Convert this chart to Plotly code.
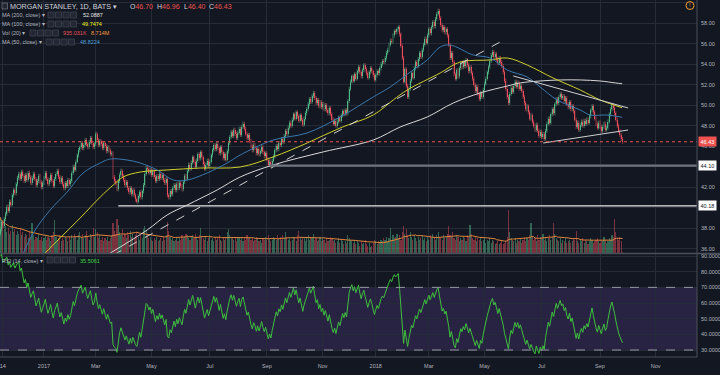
import numpy as np
import pandas as pd
import plotly.graph_objects as go

# ---------------- data ----------------
prior_closes = [33.3, 33.6, 33.4, 33.8, 33.5, 33.1, 33.3, 32.9, 33.2, 33.5, 34.1, 34.8, 35.7, 36.9]

closes = [
    37.9, 38.6, 38.2, 38.9, 39.4, 40.1, 39.7, 40.6, 40.3, 41.2, 41.7, 41.4, 42.3,
    42.9, 43.3, 42.8, 43.5, 43.1, 42.6, 43.2, 42.7, 43.4, 43.0, 42.4, 42.9, 43.3,
    42.8, 42.2, 42.6, 43.1, 42.5, 42.0, 42.4, 42.9, 43.4, 42.8, 42.3, 42.7, 43.2,
    42.6, 42.1, 42.8, 43.3, 43.6, 43.0, 42.5, 42.9, 42.3, 41.9, 42.4, 42.1, 42.7, 42.3,
    42.6, 43.4, 44.0, 43.7, 44.5, 45.1, 45.6, 45.9,
    46.3, 45.8, 46.1, 46.6, 46.2, 45.9, 46.4, 46.8, 46.3, 45.9, 46.2,
    47.2, 46.6, 46.1, 46.5, 46.2, 45.8, 46.3, 46.0, 45.5, 45.9, 45.6, 45.2, 45.3, 43.0, 42.6,
    42.4, 41.8, 42.6, 43.2, 43.6, 43.1, 42.7, 42.2, 42.5, 41.9, 41.5, 41.9, 41.3, 41.7,
    41.2, 40.8, 40.6, 41.1, 41.5, 41.0, 41.6, 42.2,
    43.3, 43.9, 43.8, 43.4, 43.7,
    43.2, 43.6, 43.0, 42.6, 43.1, 42.8, 43.3, 42.9, 43.2, 42.7, 42.4,
    42.8, 41.2, 41.0, 41.6, 41.3, 41.9,
    42.2, 41.7, 42.3, 41.9, 42.4, 42.1, 41.8, 42.5, 43.1, 42.8,
    43.6, 44.2, 43.8, 44.4, 44.9, 44.5, 44.0, 44.6, 45.2, 44.8,
    45.4, 44.9, 44.3, 43.8, 44.2, 44.6, 44.1, 44.5,
    45.1, 45.6, 46.1, 45.7, 46.2, 45.8, 45.3, 45.9,
    45.4, 44.8, 45.2, 44.7, 45.5,
    46.3, 46.9, 47.4, 47.0, 47.6, 47.2, 46.8, 47.3, 47.7, 47.1,
    47.9, 48.2, 47.7, 47.2, 46.8, 47.1, 46.5,
    46.0, 45.6, 46.1, 45.8, 45.3, 45.7, 45.2, 45.5, 45.9, 45.4, 45.0, 45.3,
    44.7, 44.2, 44.5, 44.1, 44.6, 45.0,
    45.6, 46.0, 45.7, 46.3, 46.1, 46.7,
    46.4, 47.0, 47.5, 47.2, 47.8, 48.3, 48.0, 48.6, 49.1, 48.7, 49.3, 48.9,
    48.5, 49.0, 48.6, 48.1, 48.7, 49.2, 49.6,
    50.1, 50.6, 50.3, 50.9, 51.2, 50.7, 50.2, 50.5, 49.9,
    50.3, 49.8, 50.1, 49.6, 50.0, 49.5, 49.2, 49.7, 49.1,
    48.6, 48.2, 48.5, 48.0, 48.4, 48.8, 48.5,
    49.0, 49.4, 49.1, 49.5, 49.2,
    50.4, 51.6, 52.3, 52.8, 52.4, 53.0, 52.6,
    53.3, 53.7, 53.2, 52.8, 53.4, 53.9, 53.5, 53.1, 52.7, 53.2, 53.6, 53.3, 52.9,
    52.5, 52.9, 53.3, 53.1, 53.6, 54.0, 54.3, 54.2,
    54.6, 55.1, 55.4, 55.9, 56.3, 56.2, 56.8, 57.2, 57.1, 57.4, 57.6, 56.9,
    55.8, 54.6, 52.3, 53.5, 51.9, 50.8, 51.6, 52.4,
    53.1, 52.7, 53.6, 54.2, 53.8, 54.5, 55.1, 54.7, 55.4,
    55.9, 56.5, 56.1, 56.8, 57.4, 57.0, 57.6, 58.1, 57.7, 58.4, 58.9, 59.2,
    58.5, 57.8, 57.3, 57.6, 57.1, 57.4, 56.8,
    55.9, 54.6, 55.1, 54.2, 53.0, 52.6, 53.4, 52.8, 53.6, 54.1,
    53.7, 54.2, 53.8, 54.4, 53.9, 53.3, 53.7, 53.1, 52.6,
    52.0, 51.4, 51.8, 51.1, 50.6, 51.2, 50.8, 51.5, 52.1, 52.6, 53.2,
    53.7, 54.3, 54.9, 55.2, 54.7, 55.0, 54.5, 54.1, 54.6, 54.2, 53.8,
    53.2, 52.4, 51.6, 50.8, 50.2, 51.1, 51.7, 51.3,
    51.9, 52.3, 51.8, 52.2, 51.6, 51.9, 51.4,
    50.8, 50.2, 49.6, 49.9, 49.3, 48.7, 49.0, 48.4, 48.0,
    47.6, 48.1, 47.5, 47.0, 47.4, 46.9, 47.2, 46.7, 47.5,
    48.2, 48.7, 48.3, 49.1, 49.6, 49.2, 50.1,
    50.6, 50.2, 50.8, 51.1, 50.7, 50.9,
    50.4, 50.7, 50.1, 49.8, 50.3, 49.6, 49.9, 49.4,
    48.6, 47.9, 48.3, 47.6, 48.1, 48.4,
    48.0, 48.5, 48.2, 48.6, 48.3, 48.9, 49.5, 49.9,
    49.3, 48.7, 48.2, 47.8, 48.3, 47.9, 47.5, 47.9, 48.2, 47.6, 47.8,
    48.4, 49.1, 49.6, 50.0, 49.7, 49.2,
    48.6, 48.0, 47.5, 47.1, 46.7, 46.43,
]
first_open = 37.4
wick = 0.2

volumes_m = [
    24, 19, 21, 16, 18, 14, 17, 13, 15, 19, 14, 16, 12, 15, 13, 17, 12, 14, 11, 13,
    12, 10, 14, 11, 20, 12, 9, 11, 10, 13, 9, 11, 8, 10, 12, 9, 11, 10, 8, 12,
    14, 22, 11, 9, 10, 12, 8, 10, 9, 11, 10, 8, 11, 9, 12, 10, 13, 11, 9, 12,
    14, 11, 13, 10, 12, 15, 11, 9, 13, 12, 17, 11, 16, 14, 10, 12, 9, 11, 8, 10,
    9, 11, 8, 10, 12, 20, 15, 13, 23, 19, 14, 12, 16, 11, 13, 10, 14, 12, 15, 11,
    13, 10, 12, 14, 11, 9, 12, 10, 16, 18, 15, 12, 10, 11, 9, 8, 10, 9, 11, 8,
    9, 10, 8, 11, 9, 12, 21, 15, 11, 9, 10, 8, 9, 11, 8, 10, 9, 12, 10, 11,
    13, 12, 10, 9, 11, 12, 10, 13, 11, 9, 12, 17, 11, 10, 9, 11, 8, 10, 12, 9,
    10, 8, 11, 9, 10, 12, 9, 8, 10, 9, 11, 14, 16, 12, 10, 11, 9, 10, 8, 11,
    10, 9, 11, 8, 10, 9, 12, 10, 11, 9, 10, 8, 9, 11, 10, 8, 9, 7, 10, 9,
    11, 9, 12, 10, 8, 9, 11, 10, 9, 12, 10, 11, 9, 12, 10, 14, 11, 9, 10, 8,
    9, 11, 10, 8, 12, 15, 10, 9, 11, 10, 8, 10, 12, 9, 11, 10, 13, 9, 10, 8,
    9, 11, 8, 10, 9, 7, 10, 8, 9, 11, 10, 8, 9, 7, 8, 10, 7, 9, 8, 6,
    8, 7, 12, 10, 9, 8, 7, 9, 6, 8, 7, 5, 8, 6, 7, 9, 6, 5, 7, 4,
    5, 7, 9, 8, 6, 8, 7, 9, 8, 10, 9, 11, 8, 10, 17, 9, 12, 10, 11, 13,
    10, 12, 9, 14, 18, 13, 16, 12, 10, 14, 11, 9, 12, 10, 8, 11, 9, 10, 12, 9,
    10, 8, 11, 9, 12, 10, 13, 11, 9, 12, 14, 11, 10, 9, 12, 10, 11, 13, 18, 12,
    11, 14, 10, 9, 12, 11, 8, 10, 9, 11, 10, 8, 12, 11, 19, 13, 10, 9, 11, 8,
    10, 9, 11, 8, 9, 10, 7, 9, 8, 10, 7, 9, 8, 6, 7, 8, 6, 7, 9, 6,
    7, 8, 11, 29, 14, 10, 9, 8, 10, 7, 9, 8, 10, 7, 9, 11, 8, 10, 9, 12,
    20, 11, 9, 10, 8, 12, 9, 11, 10, 13, 9, 11, 8, 10, 12, 9, 11, 20, 13, 10,
    9, 8, 10, 7, 9, 8, 10, 7, 8, 9, 7, 8, 10, 9, 15, 8, 7, 9, 8, 10,
    7, 9, 8, 6, 8, 10, 9, 7, 8, 9, 10, 8, 7, 9, 8, 11, 9, 7, 8, 10,
    9, 12, 11, 23, 14, 10, 9, 11, 8, 0.935,
]

# moving averages (trading-day index, price)
ma200_idx = [80.6, 110.8, 125.8, 140.9, 163.5, 180.9, 205.7, 243.4, 281.1, 301.4, 321.8,
             341.4, 361.7, 382.1, 391.9, 406.9, 422.0, 437.1, 452.1, 463.5, 468.7]
ma200_val = [35.39, 37.83, 39.29, 40.26, 41.73, 43.00, 44.17, 45.44, 46.60, 47.87, 48.85,
             50.21, 51.19, 51.87, 52.17, 52.36, 52.46, 52.46, 52.36, 52.17, 52.09]
ma100_idx = [32.4, 45.2, 60.3, 75.4, 85.2, 92.7, 105.5, 125.8, 150.7, 180.9, 205.7, 231.3,
             256.2, 281.1, 296.2, 306.7, 331.6, 346.6, 369.3, 382.1, 397.1, 416.7, 437.1,
             452.1, 468.7]
ma100_val = [35.39, 37.05, 39.00, 41.04, 42.21, 43.00, 43.48, 43.68, 43.87, 43.97, 44.95, 46.31,
             47.78, 49.04, 50.51, 51.48, 53.14, 54.21, 54.41, 54.60, 53.92, 52.65, 51.48,
             50.51, 49.75]
ma50_idx = [15.1, 24.9, 37.7, 50.5, 62.5, 75.4, 82.9, 95.7, 105.5, 118.3, 130.4, 140.9, 156.0,
            171.1, 180.9, 205.7, 231.3, 256.2, 281.1, 293.9, 311.2, 321.8, 331.6, 339.1,
            356.4, 369.3, 382.1, 397.1, 406.9, 419.7, 437.1, 444.6, 457.4, 468.7]
ma50_val = [34.90, 37.53, 39.78, 41.53, 43.39, 44.36, 44.75, 44.65, 44.36, 43.68, 42.70, 42.70,
            43.39, 44.36, 45.14, 46.60, 47.29, 48.85, 50.80, 51.78, 53.44, 54.41, 55.68, 55.87,
            54.90, 54.60, 53.43, 52.75, 51.78, 50.51, 49.53, 49.04, 49.04, 48.82]

# drawn trend lines (index, price)
trend_dash_idx = [85.2, 376.8]
trend_dash_val = [35.39, 56.17]
resist_idx = [386.6, 473.2]
resist_val = [52.85, 49.73]
support_idx = [409.2, 473.2]
support_val = [46.31, 47.58]
level_vals = [44.10, 40.18]
level_start_idx = [203, 89]
last_price = 46.43

tick_idx = [2, 33, 72, 114, 158, 201, 243, 283, 323, 365, 408, 452, 494]
tick_labels = ["14", "2017", "Mar", "May", "Jul", "Sep", "Nov", "2018", "Mar", "May", "Jul", "Sep", "Nov"]
price_ticks = [36, 38, 40, 42, 44, 46, 48, 50, 52, 54, 56, 58, 60]
hidden_price_ticks = [40, 44]          # covered by the level labels in the reference
rsi_ticks = [30, 40, 50, 60, 70, 80, 90]

# ---------------- derived series ----------------
n = len(closes)
x = np.arange(n)
c = np.array(closes)
o = np.array([first_open] + closes[:-1])
h = np.maximum(o, c) + wick
l = np.minimum(o, c) - wick
up = c >= o

vol = np.array(volumes_m, dtype=float)
vol_ma = pd.Series(vol).rolling(20, min_periods=1).mean().values

allc = pd.Series(prior_closes + closes)
d = allc.diff()
g = d.clip(lower=0).ewm(alpha=1 / 14, adjust=False).mean()
ls = (-d.clip(upper=0)).ewm(alpha=1 / 14, adjust=False).mean()
rsi = (100 - 100 / (1 + g / ls)).iloc[len(prior_closes):].values

# ---------------- styling ----------------
BG = "#131722"
GRID = "#262b38"
TXT = "#b2b5be"
UP = "#53b987"
DN = "#eb4d5c"
FONT = "Liberation Sans, Arial, sans-serif"
X_MIN, X_MAX = -0.15, 525.1
PW, PH = 697.0, 357.0


def px(v):
    return v / PW


def py(v):
    return (PH - v) / PH


fig = go.Figure()

# volume (primary y, hidden)
fig.add_trace(go.Bar(
    x=x, y=vol, yaxis="y", xaxis="x",
    marker=dict(color=np.where(up, "rgba(83,185,135,0.48)", "rgba(235,77,92,0.48)"), line_width=0),
    width=0.85, showlegend=False, hoverinfo="skip"))
fig.add_trace(go.Scatter(x=x, y=vol_ma, yaxis="y", mode="lines",
                         line=dict(color="#e0853a", width=1), showlegend=False, hoverinfo="skip"))

# candles: wicks + bodies on overlaying price axis y3
for mask, col in ((up, UP), (~up, DN)):
    idx = x[mask]
    wx = np.column_stack([idx, idx, np.full(len(idx), np.nan)]).ravel()
    wy = np.column_stack([l[mask], h[mask], np.full(len(idx), np.nan)]).ravel()
    fig.add_trace(go.Scatter(x=wx, y=wy, yaxis="y3", mode="lines", connectgaps=False,
                             line=dict(color=col, width=0.6), showlegend=False, hoverinfo="skip"))
    body_lo = np.minimum(o[mask], c[mask])
    body_h = np.maximum(np.abs(c[mask] - o[mask]), 0.04)
    fig.add_trace(go.Bar(x=idx, y=body_h, base=body_lo, yaxis="y3", width=0.72,
                         marker=dict(color=col, line_width=0), showlegend=False, hoverinfo="skip"))

fig.add_trace(go.Scatter(x=ma200_idx, y=ma200_val, yaxis="y3", mode="lines", line_shape="spline",
                         line=dict(color="#d9d9d9", width=1), showlegend=False, hoverinfo="skip"))
fig.add_trace(go.Scatter(x=ma100_idx, y=ma100_val, yaxis="y3", mode="lines", line_shape="spline",
                         line=dict(color="#cfcf2a", width=1), showlegend=False, hoverinfo="skip"))
fig.add_trace(go.Scatter(x=ma50_idx, y=ma50_val, yaxis="y3", mode="lines", line_shape="spline",
                         line=dict(color="#3a78ad", width=1), showlegend=False, hoverinfo="skip"))

# trend lines
fig.add_trace(go.Scatter(x=trend_dash_idx, y=trend_dash_val, yaxis="y3", mode="lines",
                         line=dict(color="#d0d0d0", width=1, dash="dash"), showlegend=False, hoverinfo="skip"))
fig.add_trace(go.Scatter(x=resist_idx, y=resist_val, yaxis="y3", mode="lines",
                         line=dict(color="#d0d0d0", width=1), showlegend=False, hoverinfo="skip"))
fig.add_trace(go.Scatter(x=support_idx, y=support_val, yaxis="y3", mode="lines",
                         line=dict(color="#d0d0d0", width=1), showlegend=False, hoverinfo="skip"))
# horizontal levels
fig.add_trace(go.Scatter(x=[level_start_idx[0], X_MAX], y=[level_vals[0]] * 2, yaxis="y3", mode="lines",
                         line=dict(color="#6f737e", width=2.2), showlegend=False, hoverinfo="skip"))
fig.add_trace(go.Scatter(x=[level_start_idx[1], X_MAX], y=[level_vals[1]] * 2, yaxis="y3", mode="lines",
                         line=dict(color="#e6e6e6", width=1.3), showlegend=False, hoverinfo="skip"))
fig.add_trace(go.Scatter(x=[X_MIN, X_MAX], y=[last_price] * 2, yaxis="y3", mode="lines",
                         line=dict(color="#ef5350", width=1, dash="dot"), showlegend=False, hoverinfo="skip"))

# RSI
fig.add_trace(go.Scatter(x=x, y=rsi, yaxis="y2", xaxis="x", mode="lines",
                         line=dict(color="#3fbf3f", width=1), showlegend=False, hoverinfo="skip"))

price_dom = [py(253), 1]
rsi_dom = [0, py(254)]
price_text = ["" if t in hidden_price_ticks else f"{t:.2f}" for t in price_ticks]

fig.update_layout(
    width=720, height=375,
    margin=dict(l=0, r=23, t=0, b=18),
    paper_bgcolor=BG, plot_bgcolor=BG,
    font=dict(family=FONT, color=TXT, size=6),
    bargap=0, barmode="overlay",
    xaxis=dict(range=[X_MIN, X_MAX], anchor="y2", tickmode="array", tickvals=tick_idx,
               ticktext=tick_labels, showgrid=True, gridcolor=GRID, gridwidth=1, zeroline=False,
               tickfont=dict(size=5.5, color=TXT), ticks="", ticklabelstandoff=4,
               ticklabeloverflow="allow", showline=False),
    yaxis=dict(domain=price_dom, range=[0, 170], visible=False, showgrid=False, fixedrange=True),
    yaxis3=dict(overlaying="y", side="right", range=[35.58, 60.26], tickmode="array",
                tickvals=price_ticks, ticktext=price_text,
                showgrid=True, gridcolor=GRID, zeroline=False, ticks="",
                tickfont=dict(size=5.5, color=TXT), ticklabelstandoff=3),
    yaxis2=dict(domain=rsi_dom, side="right", range=[25.53, 91.3], tickmode="array",
                tickvals=rsi_ticks, ticktext=[f"{t:.4f}" for t in rsi_ticks],
                showgrid=True, gridcolor=GRID, zeroline=False, ticks="",
                tickfont=dict(size=5.5, color=TXT), ticklabelstandoff=3),
)

shapes = []
shapes.append(dict(type="rect", xref="paper", yref="y2", x0=0, x1=1, y0=30, y1=70,
                   fillcolor="rgba(126,87,194,0.2)", line_width=0, layer="below"))
for lv in (70, 30):
    shapes.append(dict(type="line", xref="paper", yref="y2", x0=0, x1=1, y0=lv, y1=lv,
                       line=dict(color="#9598a1", width=1, dash="dash")))
shapes.append(dict(type="line", xref="paper", yref="paper", x0=0, x1=px(720), y0=py(253.5), y1=py(253.5),
                   line=dict(color="#4a4e59", width=1.5)))
shapes.append(dict(type="line", xref="paper", yref="paper", x0=1, x1=1, y0=0, y1=1,
                   line=dict(color="#4a4e59", width=1)))
shapes.append(dict(type="line", xref="paper", yref="paper", x0=0, x1=1, y0=0, y1=0,
                   line=dict(color="#4a4e59", width=1)))


def icon_row(x0, yc):
    for k in range(4):
        shapes.append(dict(type="rect", xref="paper", yref="paper",
                           x0=px(x0 + k * 7.5), x1=px(x0 + k * 7.5 + 6),
                           y0=py(yc + 3), y1=py(yc - 3),
                           fillcolor="#232733", line=dict(color="#3d4250", width=0.8)))


icon_row(48, 15)
icon_row(48, 24)
icon_row(30, 33)
icon_row(46, 42)
icon_row(47, 260)
shapes.append(dict(type="rect", xref="paper", yref="paper", x0=px(2), x1=px(7.5), y0=py(9), y1=py(3),
                   fillcolor="#232733", line=dict(color="#6a6e7a", width=0.8)))
shapes.append(dict(type="circle", xref="paper", yref="paper", x0=px(686), x1=px(694), y0=py(9.5), y1=py(1.5),
                   line=dict(color="#f0a030", width=1)))
fig.update_layout(shapes=shapes)

ann = []


def txt(xp, yp, s, color, size=5.5):
    ann.append(dict(x=px(xp), y=py(yp), xref="paper", yref="paper", text=s, showarrow=False,
                    xanchor="left", yanchor="middle", borderpad=0,
                    font=dict(size=size, color=color, family=FONT)))


txt(9, 6, "MORGAN STANLEY, 1D, BATS ▾", "#d1d4dc", 7.2)
txt(129, 6, "O<span style='color:#ef5350'>46.70</span>", "#d1d4dc", 7)
txt(156, 6, "H<span style='color:#ef5350'>46.96</span>", "#d1d4dc", 7)
txt(183, 6, "L<span style='color:#ef5350'>46.40</span>", "#d1d4dc", 7)
txt(208, 6, "C<span style='color:#ef5350'>46.43</span>", "#d1d4dc", 7)
txt(1, 15, "MA (200, close) ▾", TXT)
txt(82, 15, "52.0887", "#e6e6e6")
txt(1, 24, "MA (100, close) ▾", TXT)
txt(81, 24, "49.7474", "#f2f21e")
txt(1, 33, "Vol (20) ▾", TXT)
txt(62, 33, "935.031K", "#e8505b")
txt(90, 33, "8.714M", "#f49a3c")
txt(1, 42, "MA (50, close) ▾", TXT)
txt(79, 42, "48.8224", "#4a9fd8")
txt(1, 261, "RSI (14, close) ▾", TXT)
txt(79, 261, "35.5061", "#3fd43f")
ann.append(dict(x=px(690), y=py(5.5), xref="paper", yref="paper", text="!", showarrow=False,
                xanchor="center", yanchor="middle", font=dict(size=6, color="#f0a030", family=FONT)))

for val, bg, fg in ((last_price, "#ef5350", "#ffffff"), (level_vals[0], "#ffffff", "#131722"),
                    (level_vals[1], "#ffffff", "#131722")):
    ann.append(dict(x=px(698), y=val, xref="paper", yref="y3", text=f"{val:.2f}", showarrow=False,
                    xanchor="left", yanchor="middle", bgcolor=bg, borderpad=1.5,
                    font=dict(size=5.5, color=fg, family=FONT)))
fig.update_layout(annotations=ann)

fig.write_html("out.html", config={"displayModeBar": False, "staticPlot": True},
               post_script="document.body.style.margin='0px';document.body.style.overflow='hidden';")
